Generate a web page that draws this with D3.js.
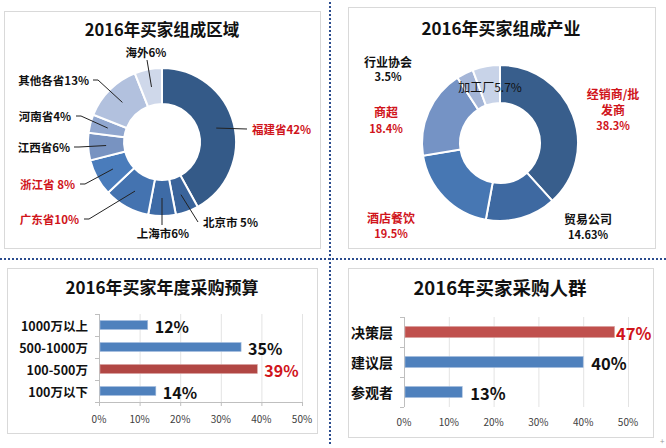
<!DOCTYPE html>
<html><head><meta charset="utf-8">
<script src="https://cdn.jsdelivr.net/npm/d3@7"></script>
<style>
body{margin:0;background:#fff;}
svg{display:block;font-family:"Noto Sans CJK SC","Microsoft YaHei",sans-serif;}
</style></head><body>
<svg id="c" width="666" height="448"></svg>
<script>
// ---- data ----
const regionNames = ["福建省","北京市","上海市","广东省","浙江省","江西省","河南省","其他各省","海外"];
const regionLabels = ["福建省42%","北京市 5%","上海市6%","广东省10%","浙江省 8%","江西省6%","河南省4%","其他各省13%","海外6%"];
const regionValues = [42,5,6,10,8,6,4,13,6];
const regionRed = [true,false,false,true,true,false,false,false,false];

const industryNames = ["经销商/批发商","贸易公司","酒店餐饮","商超","行业协会","加工厂"];
const industryValues = [38.3,14.63,19.5,18.4,3.5,5.7];
const industryLabels = [["经销商/批","发商","38.3%"],["贸易公司","14.63%"],["酒店餐饮","19.5%"],["商超","18.4%"],["行业协会","3.5%"],["加工厂5.7%"]];
const industryRed = [true,false,true,true,false,false];

const budgetCats = ["1000万以上","500-1000万","100-500万","100万以下"];
const budgetValues = [12,35,39,14];
const budgetHighlight = [false,false,true,false];

const groupCats = ["决策层","建议层","参观者"];
const groupValues = [47,40,13];
const groupHighlight = [true,false,false];

const axisTicks = [0,10,20,30,40,50];

// ---- layout / style ----
const regionColors = ["#345a88","#3a649b","#3e6ba6","#4473b0","#4a7cbb","#7893c1","#91a7cf","#b2c1de","#cfd8ea"];
const industryColors = ["#385e8c","#3e69a1","#4777b3","#7593c5","#a4b5d7","#c8d3e8"];
// label anchor points [lineEndX, lineEndY, textX, textY, anchor]
const regionLabelPos = [
  [247,129,252,129,"start"],[198,222,203,222,"start"],[162,225,163,233,"middle"],
  [84,219,79,219,"end"],[80,184,75,184,"end"],[74,147,70,147,"end"],
  [76,116,71,116,"end"],[93,80,89,80,"end"],[147,60,146,52,"middle"]];
const industryLabelPos = [[613,93],[588,218],[391,217],[386,111],[388,61],[490,86]];
const industryLineGap = [[0,16,32],[0,16],[0,16],[0,17],[0,15],[0]];

const svg = d3.select("#c");
const RED = "#d0141b";

// panels
[[4,11,316,237],[348,7,307,241],[7,268,310,165],[348,268,305,169]].forEach(p=>{
  svg.append("rect").attr("x",p[0]+0.5).attr("y",p[1]+0.5).attr("width",p[2]).attr("height",p[3])
    .attr("fill","#fff").attr("stroke","#d9d9d9").attr("stroke-width",1);
});
// dotted separators
svg.append("line").attr("x1",330).attr("x2",330).attr("y1",2).attr("y2",444)
  .attr("stroke","#2b4c8e").attr("stroke-width",2).attr("stroke-dasharray","2,2");
svg.append("line").attr("x1",0).attr("x2",666).attr("y1",259).attr("y2",259)
  .attr("stroke","#2b4c8e").attr("stroke-width",2).attr("stroke-dasharray","2,2");
svg.append("text").attr("x",660).attr("y",444).attr("font-size",8).attr("fill","#999").text("+");

function title(x,y,t,size){
  svg.append("text").attr("x",x).attr("y",y).attr("text-anchor","middle").attr("dominant-baseline","central")
    .attr("font-size",size).attr("font-weight","bold").attr("fill","#111").text(t);
}
title(162,29,"2016年买家组成区域",16.5);
title(501,27,"2016年买家组成产业",17);
title(162,286,"2016年买家年度采购预算",17);
title(500,287,"2016年买家采购人群",18.5);

const pie = d3.pie().sort(null).value(d=>d);

// ---- donut 1 ----
{
  const cx=162, cy=142, R=74, r=38;
  const g = svg.append("g").attr("transform",`translate(${cx},${cy})`);
  const arc = d3.arc().innerRadius(r).outerRadius(R);
  const arcs = pie(regionValues);
  g.selectAll("path").data(arcs).join("path").attr("d",arc)
    .attr("fill",(d,i)=>regionColors[i]).attr("stroke","#fff").attr("stroke-width",2);
  const mid = d3.arc().innerRadius((R+r)/2).outerRadius((R+r)/2);
  arcs.forEach((a,i)=>{
    const c = mid.centroid(a);
    const p = regionLabelPos[i];
    const sx = cx+c[0], sy = cy+c[1];
    const pts = p[4]==="end" ? [[sx,sy],[p[0]+5,p[1]],[p[0],p[1]]] : [[sx,sy],[p[0],p[1]]];
    svg.append("path").attr("d",d3.line()(pts)).attr("fill","none").attr("stroke","#222").attr("stroke-width",1);
    svg.append("text").attr("x",p[2]).attr("y",p[3]).attr("text-anchor",p[4]).attr("dominant-baseline","central")
      .attr("font-size",11.5).attr("font-weight","bold").attr("fill",regionRed[i]?RED:"#111").text(regionLabels[i]);
  });
}

// ---- donut 2 ----
{
  const cx=500, cy=143, R=78, r=40;
  const g = svg.append("g").attr("transform",`translate(${cx},${cy})`);
  const arc = d3.arc().innerRadius(r).outerRadius(R);
  const arcs = pie(industryValues);
  g.selectAll("path").data(arcs).join("path").attr("d",arc)
    .attr("fill",(d,i)=>industryColors[i]).attr("stroke","#fff").attr("stroke-width",2);
  industryLabels.forEach((lines,i)=>{
    const p = industryLabelPos[i];
    const t = svg.append("text").attr("text-anchor","middle")
      .attr("font-weight", i===5?"normal":"bold").attr("fill",industryRed[i]?RED:"#111");
    lines.forEach((s,j)=>{
      const isNum = /%$/.test(s) && lines.length>1;
      t.append("tspan").attr("x",p[0]).attr("y",p[1]+industryLineGap[i][j])
        .attr("dominant-baseline","central").attr("font-size",isNum?11:12).text(s);
    });
  });
}

// ---- bar charts ----
function bars(opts){
  const {cats,vals,hi,x0,x1,y0,y1,pad,catSize,valSize,redColor,valOff,maxLabelX,bottomAxis,tickY} = opts;
  const x = d3.scaleLinear().domain([0,50]).range([x0,x1]);
  const y = d3.scaleBand().domain(cats).range([y0,y1]).paddingInner(pad).paddingOuter(pad/2);
  const g = svg.append("g");
  g.selectAll("line.grid").data(axisTicks.slice(1)).join("line")
    .attr("x1",d=>x(d)+0.5).attr("x2",d=>x(d)+0.5).attr("y1",y0).attr("y2",y1)
    .attr("stroke","#e3e3e3").attr("stroke-width",1);
  g.append("line").attr("x1",x0+0.5).attr("x2",x0+0.5).attr("y1",y0).attr("y2",y1).attr("stroke","#bfbfbf");
  const step = (y1-y0)/cats.length;
  d3.range(cats.length+1).forEach(k=>{
    g.append("line").attr("x1",x0-4).attr("x2",x0).attr("y1",y0+k*step+0.5).attr("y2",y0+k*step+0.5).attr("stroke","#bfbfbf");
  });
  if(bottomAxis){
    g.append("line").attr("x1",x0).attr("x2",x1).attr("y1",y1+0.5).attr("y2",y1+0.5).attr("stroke","#bfbfbf");
    axisTicks.forEach(t=>g.append("line").attr("x1",x(t)+0.5).attr("x2",x(t)+0.5).attr("y1",y1).attr("y2",y1+4).attr("stroke","#bfbfbf"));
  }
  g.selectAll("rect").data(vals).join("rect")
    .attr("x",x0+1).attr("y",(d,i)=>y(cats[i])).attr("height",y.bandwidth())
    .attr("width",d=>x(d)-x0-1).attr("fill",(d,i)=>hi[i]?redColor:"#4f81bd")
    .attr("stroke",(d,i)=>hi[i]?"#d9a3a1":"#a9c0df").attr("stroke-width",0.6);
  cats.forEach((c,i)=>{
    const cy = y(c)+y.bandwidth()/2;
    g.append("text").attr("x",x0-11).attr("y",cy).attr("text-anchor","end").attr("dominant-baseline","central")
      .attr("font-size",catSize).attr("font-weight","bold").attr("fill","#111").text(c);
    g.append("text").attr("x",Math.min(x(vals[i])+valOff,maxLabelX)).attr("y",cy+1).attr("dominant-baseline","central")
      .attr("font-size",valSize).attr("font-weight","bold").attr("fill",hi[i]?RED:"#111").text(vals[i]+"%");
  });
  axisTicks.forEach(t=>{
    g.append("text").attr("x",x(t)).attr("y",tickY).attr("text-anchor","middle").attr("dominant-baseline","central")
      .attr("font-size",10).attr("fill","#404040").text(t+"%");
  });
}
bars({cats:budgetCats,vals:budgetValues,hi:budgetHighlight,x0:99,x1:302,y0:314,y1:402,pad:0.59,
  catSize:12.5,valSize:16,redColor:"#b14744",valOff:7,maxLabelX:999,bottomAxis:true,tickY:418});
bars({cats:groupCats,vals:groupValues,hi:groupHighlight,x0:404,x1:628,y0:317,y1:407,pad:0.63,
  catSize:14,valSize:16.5,redColor:"#c0504d",valOff:8,maxLabelX:616,bottomAxis:false,tickY:421});
</script>
</body></html>
